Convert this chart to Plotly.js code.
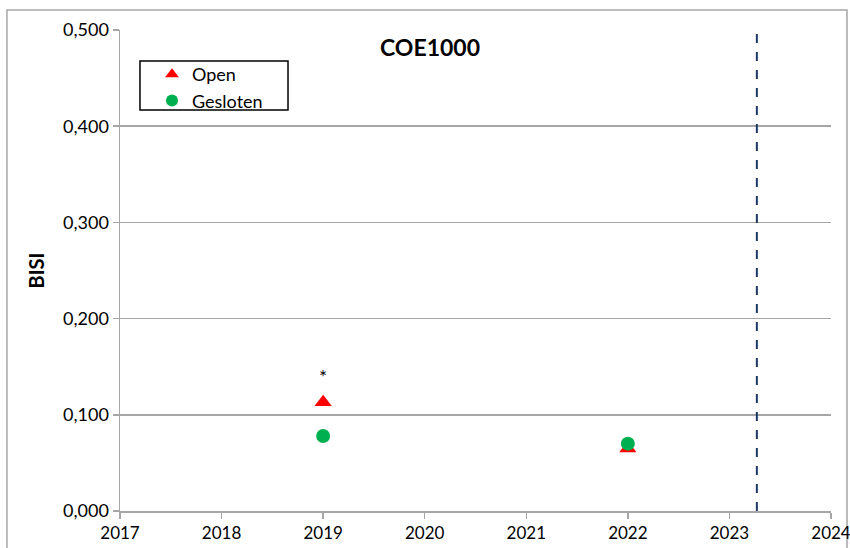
<!DOCTYPE html>
<html>
<head>
<meta charset="utf-8">
<script src="https://cdn.plot.ly/plotly-3.0.1.min.js"></script>
<style>html,body{margin:0;padding:0;background:#fff;}#chart{width:850px;height:548px;}</style>
</head>
<body>
<div id="chart"></div>
<script>
// Data
const openYears = [2019, 2022];
const openValues = [0.113, 0.065];
const geslotenYears = [2019, 2022];
const geslotenValues = [0.078, 0.070];
const starYears = [2019];
const starValues = [0.137];
const starLabels = ['*'];
const refLineYear = 2023.27;
const xTickVals = [2017, 2018, 2019, 2020, 2021, 2022, 2023, 2024];
const yTickVals = [0, 0.1, 0.2, 0.3, 0.4, 0.5];

const FONT = 'Lato, Open Sans, sans-serif';

const traces = [
  {
    x: openYears, y: openValues, name: 'Open', mode: 'markers', type: 'scatter',
    marker: {symbol: 'triangle-up', color: '#ff0000', size: 15}
  },
  {
    x: geslotenYears, y: geslotenValues, name: 'Gesloten', mode: 'markers', type: 'scatter',
    marker: {symbol: 'circle', color: '#00b050', size: 14}
  },
  {
    x: starYears, y: starValues, text: starLabels, mode: 'text', type: 'scatter',
    showlegend: false, hoverinfo: 'skip',
    textfont: {family: FONT, size: 19, color: '#000'}, textposition: 'middle center'
  }
];

const layout = {
  width: 850, height: 548,
  margin: {l: 120, r: 19, t: 30, b: 37},
  paper_bgcolor: '#fff', plot_bgcolor: '#fff',
  separators: ',.',
  font: {family: FONT, size: 18, color: '#000'},
  showlegend: true,
  legend: {
    x: 0.045, y: 0.946, xanchor: 'left', yanchor: 'top',
    borderwidth: 0, bgcolor: 'rgba(0,0,0,0)',
    font: {family: FONT, size: 18, color: '#000'},
    itemsizing: 'constant', tracegroupgap: 0, itemwidth: 30
  },
  xaxis: {
    range: [2017, 2024], tickvals: xTickVals, ticktext: xTickVals.map(String),
    showgrid: false, zeroline: false, showline: true, linecolor: '#a6a6a6', linewidth: 1.5,
    ticks: 'outside', ticklen: 6, tickcolor: '#a6a6a6', tickwidth: 1.5,
    ticklabeloverflow: 'allow',
    tickfont: {family: FONT, size: 17, color: '#000'}
  },
  yaxis: {
    range: [0, 0.5], tickvals: yTickVals, tickformat: '.3f',
    showgrid: true, gridcolor: '#a6a6a6', gridwidth: 1.5,
    zeroline: false, showline: true, linecolor: '#a6a6a6', linewidth: 1.5,
    ticks: 'outside', ticklen: 6, tickcolor: '#a6a6a6', tickwidth: 1.5,
    tickfont: {family: FONT, size: 18, color: '#000'},
    title: {text: '<b>BISI</b>', font: {family: FONT, size: 20, color: '#000'}, standoff: 13}
  },
  shapes: [
    {type: 'line', xref: 'x', yref: 'paper', x0: refLineYear, x1: refLineYear, y0: 0, y1: 1,
     line: {color: '#1f3864', width: 2, dash: 'dash'}},
    {type: 'rect', xref: 'paper', yref: 'paper', x0: -0.159, x1: 1.0225, y0: -0.2, y1: 1.0416,
     line: {color: '#a6a6a6', width: 1.5}, fillcolor: 'rgba(0,0,0,0)', layer: 'below'},
    {type: 'rect', xref: 'paper', yref: 'paper', x0: 0.0281, x1: 0.2363, y0: 0.8337, y1: 0.9356,
     line: {color: '#000', width: 1.5}, fillcolor: '#fff', layer: 'above'}
  ],
  annotations: [
    {text: '<b>COE1000</b>', xref: 'x', yref: 'paper', x: 2020.05, y: 1, xanchor: 'center', yanchor: 'top',
     yshift: 4, showarrow: false, bgcolor: '#fff', borderpad: 6,
     font: {family: FONT, size: 23, color: '#000'}}
  ]
};

Plotly.newPlot('chart', traces, layout, {displayModeBar: false, staticPlot: true});
</script>
</body>
</html>
